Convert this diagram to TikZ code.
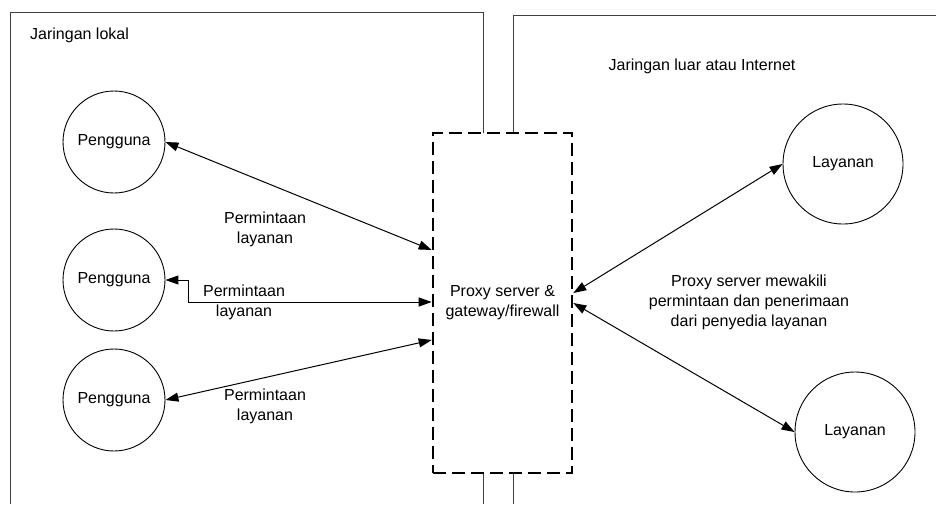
\documentclass[tikz,border=0pt]{standalone}
\usepackage{fontspec}
\setmainfont{Liberation Sans}
\usetikzlibrary{arrows.meta,calc}
\begin{document}
\begin{tikzpicture}[x=1pt,y=-1pt,
  every node/.style={font=\fontsize{16}{20}\selectfont},
  frame/.style={draw=black!75, line width=1pt},
  user/.style={draw, circle, line width=0.9pt, minimum size=102pt, inner sep=0pt},
  svc/.style={draw, circle, line width=0.9pt, minimum size=120pt, inner sep=0pt},
  proxybox/.style={draw, line width=2.6pt, dash pattern=on 13pt off 6pt, minimum width=139pt, minimum height=340pt, align=center, inner sep=0pt},
  conn/.style={line width=1pt, {Triangle[length=13pt,width=9pt]}-{Triangle[length=13pt,width=9pt]}},
  lbl/.style={align=center, inner sep=0pt}]
\useasboundingbox (0,0) rectangle (936,504);
% frames
\draw[frame] (10,504) -- (10,12) -- (483,12) -- (483,133);
\draw[frame] (513,133) -- (513,15) -- (936,15);
\draw[frame] (483,473) -- (483,504);
\draw[frame] (513,473) -- (513,504);
% proxy
\node[proxybox] (proxy) at (502.5,303) {Proxy server \&\\gateway/firewall};
% users
\node[user] (p1) at (114,142) {Pengguna};
\node[user] (p2) at (114,280) {Pengguna};
\node[user] (p3) at (114,400) {Pengguna};
% services
\node[svc] (l1) at (843,164) {Layanan};
\node[svc] (l2) at (855,432) {Layanan};
% anchor points on proxy
\coordinate (a1) at (proxy.west |- 0,250);
\coordinate (a2) at (proxy.west |- 0,302);
\coordinate (a3) at (proxy.west |- 0,340);
\coordinate (b1) at (proxy.east |- 0,293);
\coordinate (b2) at (proxy.east |- 0,303);
\coordinate (e2) at (188,302);
% connectors
\draw[conn] (p1.east) -- (a1);
\draw[conn] (p2.east) -| (e2) -- (a2);
\draw[conn] (p3.east) -- (a3);
\draw[conn] (b1) -- (l1.west);
\draw[conn] (b2) -- (l2.west);
% labels
\node[anchor=base west, inner sep=0pt] (t1) at (30,39) {Jaringan lokal};
\node[inner sep=0pt] (t2) at (702,66) {Jaringan luar atau Internet};
\node[lbl] (m1) at (265,229) {Permintaan\\layanan};
\node[lbl] (m2) at (244,302) {Permintaan\\layanan};
\node[lbl] (m3) at (265,406) {Permintaan\\layanan};
\node[lbl] (m4) at (749,302) {Proxy server mewakili\\permintaan dan penerimaan\\dari penyedia layanan};
\end{tikzpicture}
\end{document}
